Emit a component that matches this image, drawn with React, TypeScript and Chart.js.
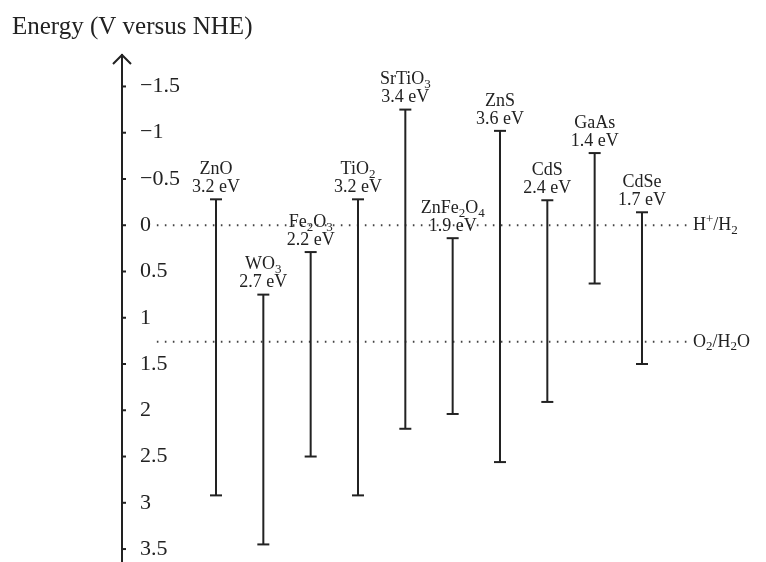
import React, { useEffect, useRef } from "react";
import { Chart, registerables } from "chart.js";

Chart.register(...registerables);

// ---- Data ----
const materials = ["ZnO", "WO_3", "Fe_2O_3", "TiO_2", "SrTiO_3", "ZnFe_2O_4", "ZnS", "CdS", "GaAs", "CdSe"];
const bandGapLabels = ["3.2 eV", "2.7 eV", "2.2 eV", "3.2 eV", "3.4 eV", "1.9 eV", "3.6 eV", "2.4 eV", "1.4 eV", "1.7 eV"];
const conductionBand = [-0.28, 0.75, 0.29, -0.28, -1.25, 0.14, -1.02, -0.27, -0.78, -0.14];
const valenceBand = [2.92, 3.45, 2.5, 2.92, 2.2, 2.04, 2.56, 1.91, 0.63, 1.5];
const yTicks = [-1.5, -1, -0.5, 0, 0.5, 1, 1.5, 2, 2.5, 3, 3.5];
const refLabels = ["H^+/H_2", "O_2/H_2O"];
const refValues = [0, 1.26];
const refSpan = [-1.25, 9.97];
const yTitle = "Energy (V versus NHE)";

const FONT = '"Liberation Serif", "DejaVu Serif", serif';
const INK = "#222";

type Part = { t: string; k: "n" | "sub" | "sup" };

function parseRich(s: string): Part[] {
  const parts: Part[] = [];
  for (let i = 0; i < s.length; i++) {
    const c = s[i];
    if ((c === "_" || c === "^") && i + 1 < s.length) {
      parts.push({ t: s[i + 1], k: c === "_" ? "sub" : "sup" });
      i++;
    } else if (parts.length && parts[parts.length - 1].k === "n") {
      parts[parts.length - 1].t += c;
    } else {
      parts.push({ t: c, k: "n" });
    }
  }
  return parts;
}

function drawRich(ctx: CanvasRenderingContext2D, s: string, x: number, y: number, align: "left" | "center", size: number) {
  const parts = parseRich(s);
  const fontFor = (k: Part["k"]) => `${k === "n" ? size : Math.round(size * 0.7)}px ${FONT}`;
  const widths = parts.map((p) => {
    ctx.font = fontFor(p.k);
    return ctx.measureText(p.t).width;
  });
  const total = widths.reduce((a, b) => a + b, 0);
  let cx = align === "center" ? x - total / 2 : x;
  ctx.textBaseline = "middle";
  ctx.textAlign = "left";
  ctx.fillStyle = INK;
  parts.forEach((p, i) => {
    ctx.font = fontFor(p.k);
    const dy = p.k === "sub" ? size * 0.28 : p.k === "sup" ? -size * 0.3 : 0;
    ctx.fillText(p.t, cx, y + dy);
    cx += widths[i];
  });
}

const overlay = {
  id: "overlay",
  afterDatasetsDraw(chart: any) {
    const ctx: CanvasRenderingContext2D = chart.ctx;
    const xs = chart.scales.x;
    const ys = chart.scales.y;
    const area = chart.chartArea;
    ctx.save();
    ctx.strokeStyle = INK;
    ctx.lineWidth = 2;
    const ax = area.left;
    // arrow head
    ctx.beginPath();
    ctx.moveTo(ax - 9, area.top + 9);
    ctx.lineTo(ax, area.top);
    ctx.lineTo(ax + 9, area.top + 9);
    ctx.stroke();
    // inward tick marks
    ys.ticks.forEach((t: any) => {
      const py = ys.getPixelForValue(t.value);
      ctx.beginPath();
      ctx.moveTo(ax, py);
      ctx.lineTo(ax + 4, py);
      ctx.stroke();
    });
    // material labels
    materials.forEach((m, i) => {
      const px = xs.getPixelForValue(i);
      const top = ys.getPixelForValue(conductionBand[i]);
      drawRich(ctx, bandGapLabels[i], px, top - 12, "center", 18);
      drawRich(ctx, m, px, top - 30, "center", 18);
    });
    // reference labels
    refLabels.forEach((l, i) => {
      drawRich(ctx, l, xs.getPixelForValue(refSpan[1]) + 5, ys.getPixelForValue(refValues[i]), "left", 18);
    });
    ctx.restore();
  },
};

const fmt = (v: number) => (v < 0 ? "\u2212" + Math.abs(v) : String(v));

export default function App() {
  const ref = useRef<HTMLCanvasElement | null>(null);
  useEffect(() => {
    if (!ref.current) return;
    const datasets: any[] = materials.map((m, i) => ({
      label: m,
      data: [
        { x: i, y: conductionBand[i] },
        { x: i, y: valenceBand[i] },
      ],
      borderColor: INK,
      borderWidth: 2,
      pointStyle: "line",
      pointRadius: 6,
      pointHoverRadius: 6,
      pointBorderWidth: 2,
      pointBorderColor: INK,
      clip: false,
    }));
    refLabels.forEach((l, i) => {
      datasets.push({
        label: l,
        data: [
          { x: refSpan[0], y: refValues[i] },
          { x: refSpan[1], y: refValues[i] },
        ],
        borderColor: "#444",
        borderWidth: 2,
        borderDash: [1.6, 6.4],
        pointRadius: 0,
        clip: false,
      });
    });
    const chart = new Chart(ref.current, {
      type: "line",
      data: { datasets },
      plugins: [overlay],
      options: {
        responsive: false,
        animation: false,
        events: [],
        layout: { autoPadding: false, padding: { left: 12, right: 0, top: 0, bottom: 0 } },
        plugins: {
          legend: { display: false },
          tooltip: { enabled: false },
          title: {
            display: true,
            text: yTitle,
            align: "start",
            color: INK,
            font: { family: FONT, size: 25, weight: "normal" },
            padding: { top: 12, bottom: 13 },
          },
        },
        scales: {
          x: { type: "linear", display: false, min: -1.986, max: 11.62 },
          y: {
            type: "linear",
            position: "left",
            reverse: true,
            min: -1.84,
            max: 3.64,
            afterBuildTicks: (s: any) => {
              s.ticks = yTicks.map((v) => ({ value: v }));
            },
            afterFit: (s: any) => {
              s.width = 110;
              s.paddingTop = 0;
              s.paddingBottom = 0;
            },
            grid: { display: true, drawOnChartArea: false, drawTicks: false },
            border: { display: true, color: INK, width: 2 },
            ticks: {
              mirror: true,
              padding: 18,
              color: INK,
              font: { family: FONT, size: 22 },
              callback: (v: any) => fmt(Number(v)),
            },
          },
        },
      } as any,
    });
    return () => chart.destroy();
  }, []);
  return (
    <div style={{ position: "absolute", left: 0, top: 0, width: 766, height: 562, background: "#fff" }}>
      <canvas ref={ref} width={766} height={562} />
    </div>
  );
}
